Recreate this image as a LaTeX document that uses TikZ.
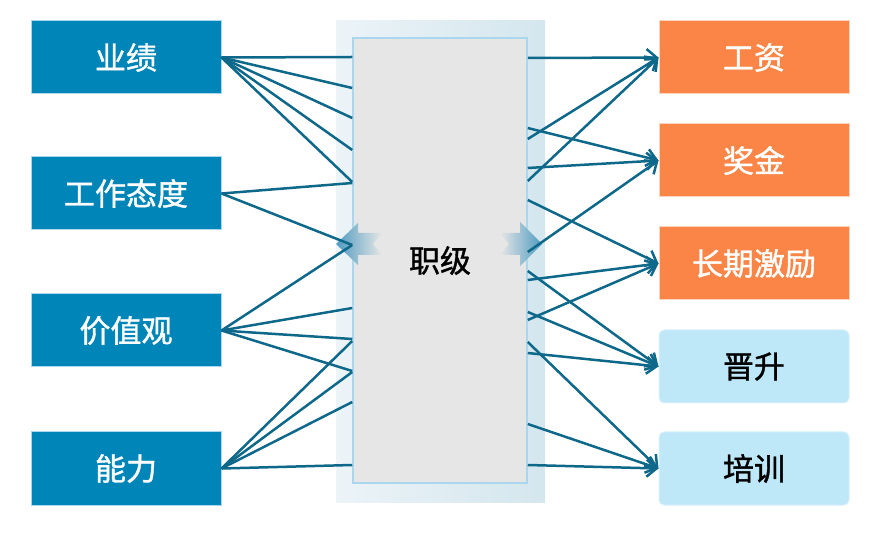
\documentclass[tikz,border=0pt]{standalone}
\usepackage{fontspec}
\newfontfamily\cjk[FakeBold=1.2]{Noto Sans CJK SC}
\usepackage{tikz}
\usetikzlibrary{arrows.meta,positioning}
\usepackage{xcolor}
\definecolor{jbblue}{RGB}{0,133,184}
\definecolor{jbglow}{RGB}{170,215,238}
\definecolor{jborange}{RGB}{250,133,70}
\definecolor{jblight}{RGB}{190,231,247}
\definecolor{jbline}{RGB}{14,104,138}
\definecolor{jbgray}{RGB}{230,230,230}
\definecolor{jbstrip}{RGB}{212,230,238}
\definecolor{jbhead}{RGB}{80,155,192}
\tikzstyle{factor} = [rectangle, minimum width=190pt, minimum height=73pt, inner sep=0pt, text centered, fill=jbblue, draw=jbglow, line width=1pt, text=white, font=\cjk\fontsize{31}{36}\selectfont]
\tikzstyle{reward} = [factor, fill=jborange, draw=jborange!35]
\tikzstyle{growth} = [factor, rounded corners=5pt, fill=jblight, draw=jblight!60, text=black]
\tikzstyle{rankbox} = [rectangle, minimum width=174pt, minimum height=445pt, inner sep=0pt, fill=jbgray, draw=jbglow, line width=1.5pt, font=\cjk\fontsize{31}{36}\selectfont]
\tikzstyle{link} = [line width=2.5pt, color=jbline]
\tikzstyle{arrow} = [link, -{Straight Barb[length=10pt,width=17pt]}]

\begin{document}
\begin{tikzpicture}[x=1pt, y=-1pt]
\useasboundingbox (0,0) rectangle (889,534);
% Input factors
\node (yeji) [factor] at (126,57.5) {业绩};
\node (taidu) [factor, below=62pt of yeji] {工作态度};
\node (jiazhi) [factor, below=63pt of taidu] {价值观};
\node (nengli) [factor, below=64pt of jiazhi] {能力};

% Outcomes
\node (gongzi) [reward] at (754,57.5) {工资};
\node (jiangjin) [reward, below=29pt of gongzi] {奖金};
\node (jili) [reward, below=29pt of jiangjin] {长期激励};
\node (jinsheng) [growth, below=29pt of jili] {晋升};
\node (peixun) [growth, below=28pt of jinsheng] {培训};

% Rank column
\shade[left color=jbstrip!45!white, right color=jbstrip] (336,21) rectangle (545,502);
\node (rank) [rankbox] at (440,260.5) {职级};
\shade[left color=jbhead, right color=jbgray] (336,244) -- (358,223) -- (358,233) -- (382,233) -- (373,244) -- (382,255) -- (358,255) -- (358,265) -- cycle;
\shade[left color=jbgray, right color=jbhead] (542,244) -- (520,222) -- (520,233) -- (500,233) -- (509,244) -- (500,255) -- (520,255) -- (520,266) -- cycle;

% Ends on the rank column
\foreach \y in {57,88,118,150,182,183,245,308,339,371,341,372,402,465}
  \coordinate (l\y) at (rank.west |- 0,\y);
\foreach \y in {58,128,139,168,181,200,252,280,271,312,320,342,353,424,465}
  \coordinate (r\y) at (rank.east |- 0,\y);

% Links in
\foreach \y/\src in {57/yeji,88/yeji,118/yeji,150/yeji,182/yeji,183/taidu,245/taidu,245/jiazhi,308/jiazhi,339/jiazhi,371/jiazhi,341/nengli,372/nengli,402/nengli,465/nengli}
  \draw[link] (\src.east) -- (l\y);

% Links out
\foreach \y/\dst in {58/gongzi,139/gongzi,181/gongzi,128/jiangjin,168/jiangjin,252/jiangjin,200/jili,280/jili,320/jili,271/jinsheng,312/jinsheng,353/jinsheng,342/peixun,424/peixun,465/peixun}
  \draw[arrow] (r\y) -- (\dst.west);
\end{tikzpicture}
\end{document}
